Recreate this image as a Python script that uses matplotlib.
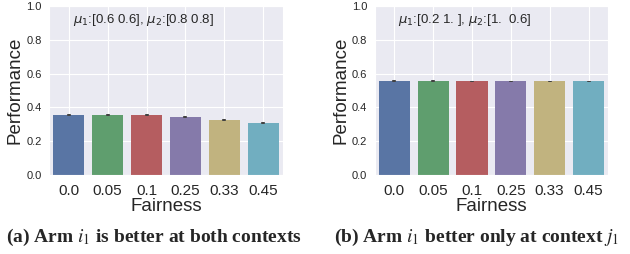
import matplotlib
matplotlib.use('Agg')
import matplotlib.pyplot as plt
import seaborn as sns
import numpy as np

# data
fairness = ['0.0', '0.05', '0.1', '0.25', '0.33', '0.45']
perf_a = [0.355, 0.355, 0.355, 0.342, 0.326, 0.307]
err_a = [0.004, 0.004, 0.005, 0.005, 0.005, 0.007]
perf_b = [0.555, 0.556, 0.556, 0.555, 0.556, 0.556]
err_b = [0.006, 0.005, 0.003, 0.003, 0.003, 0.003]
notes = [r'$\mu_1$:[0.6 0.6], $\mu_2$:[0.8 0.8]', r'$\mu_1$:[0.2 1. ], $\mu_2$:[1.  0.6]']
captions = [r'(a) Arm $i_1$ is better at both contexts',
            r'(b) Arm $i_1$ better only at context $j_1$']

sns.set_style('darkgrid')
plt.rcParams['font.family'] = ['Liberation Sans', 'DejaVu Sans']
plt.rcParams['mathtext.fontset'] = 'dejavusans'

# old seaborn "deep" palette, desaturated like barplot does
deep_old = ['#4C72B0', '#55A868', '#C44E52', '#8172B2', '#CCB974', '#64B5CD']
colors = [sns.desaturate(c, 0.75) for c in deep_old]

fig = plt.figure(figsize=(6.3, 2.54), dpi=100)
axes = [fig.add_axes([0.078, 0.311, 0.371, 0.665]),
        fig.add_axes([0.595, 0.311, 0.370, 0.665])]

for ax, vals, errs, note in zip(axes, [perf_a, perf_b], [err_a, err_b], notes):
    x = np.arange(len(fairness))
    ax.bar(x, vals, width=0.8, color=colors, linewidth=0)
    ax.vlines(x, np.array(vals) - np.array(errs), np.array(vals) + np.array(errs),
              color='#424242', lw=2.6)
    ax.set_xlim(-0.5, len(fairness) - 0.5)
    ax.set_ylim(0, 1.0)
    ax.set_yticks([0, 0.2, 0.4, 0.6, 0.8, 1.0])
    ax.set_xticks(x)
    ax.set_xticklabels(fairness, fontsize=11)
    ax.tick_params(axis='y', labelsize=8, pad=2)
    ax.tick_params(axis='x', pad=3)
    ax.set_ylabel('Performance', fontsize=13.5, labelpad=2)
    ax.set_xlabel('Fairness', fontsize=13.5, labelpad=0)
    ax.text(0.1, 0.92, note, transform=ax.transAxes, fontsize=9.5, color='.15', va='center')

fig.text(0.245, 0.067, captions[0], ha='center', va='center', fontsize=14,
         family='Liberation Serif', weight='bold', math_fontfamily='stix')
fig.text(0.757, 0.067, captions[1], ha='center', va='center', fontsize=14,
         family='Liberation Serif', weight='bold', math_fontfamily='stix')

fig.savefig('out.png', dpi=100)
